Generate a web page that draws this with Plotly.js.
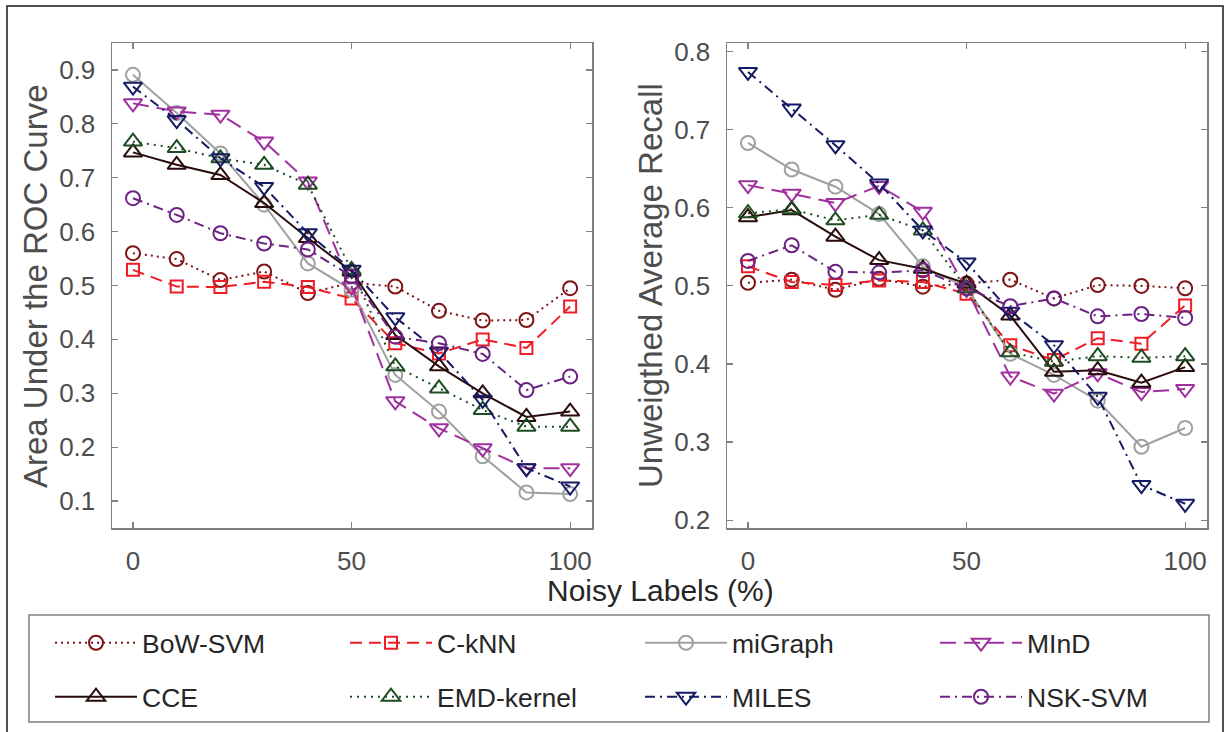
<!DOCTYPE html>
<html>
<head>
<meta charset="utf-8">
<script src="https://cdn.plot.ly/plotly-3.0.1.min.js"></script>
<style>html,body{margin:0;padding:0;background:#fff;}#chart{width:1227px;height:732px;}</style>
</head>
<body>
<div id="chart"></div>
<script>
// ---- data ----
const noise = [0, 10, 20, 30, 40, 50, 60, 70, 80, 90, 100];
const methods = ["BoW-SVM", "C-kNN", "miGraph", "MInD", "CCE", "EMD-kernel", "MILES", "NSK-SVM"];

// Area Under the ROC Curve (left panel)
const bowAuc     = [0.560, 0.549, 0.510, 0.526, 0.486, 0.505, 0.498, 0.453, 0.435, 0.436, 0.495];
const cknnAuc    = [0.529, 0.498, 0.497, 0.507, 0.497, 0.476, 0.393, 0.374, 0.400, 0.384, 0.461];
const migraphAuc = [0.891, 0.820, 0.745, 0.650, 0.541, 0.492, 0.334, 0.266, 0.183, 0.116, 0.113];
const mindAuc    = [0.838, 0.823, 0.817, 0.767, 0.693, 0.498, 0.285, 0.235, 0.198, 0.161, 0.161];
const cceAuc     = [0.747, 0.724, 0.705, 0.653, 0.588, 0.526, 0.408, 0.350, 0.300, 0.256, 0.266];
const emdAuc     = [0.767, 0.755, 0.736, 0.724, 0.687, 0.529, 0.350, 0.309, 0.269, 0.238, 0.238];
const milesAuc   = [0.869, 0.807, 0.736, 0.683, 0.597, 0.529, 0.441, 0.377, 0.288, 0.161, 0.127];
const nskAuc     = [0.662, 0.631, 0.597, 0.578, 0.567, 0.517, 0.405, 0.393, 0.373, 0.306, 0.331];

// Unweighted Average Recall (right panel)
const bowUar     = [0.504, 0.508, 0.495, 0.509, 0.499, 0.503, 0.508, 0.484, 0.501, 0.500, 0.497];
const cknnUar    = [0.525, 0.505, 0.501, 0.507, 0.505, 0.490, 0.424, 0.405, 0.433, 0.426, 0.475];
const migraphUar = [0.683, 0.649, 0.627, 0.592, 0.525, 0.498, 0.413, 0.386, 0.353, 0.294, 0.318];
const mindUar    = [0.629, 0.618, 0.606, 0.628, 0.595, 0.496, 0.384, 0.362, 0.388, 0.364, 0.368];
const cceUar     = [0.588, 0.597, 0.563, 0.533, 0.522, 0.503, 0.462, 0.390, 0.392, 0.376, 0.396];
const emdUar     = [0.593, 0.598, 0.584, 0.591, 0.571, 0.497, 0.415, 0.403, 0.410, 0.408, 0.410];
const milesUar   = [0.774, 0.727, 0.680, 0.631, 0.571, 0.530, 0.467, 0.424, 0.358, 0.245, 0.221];
const nskUar     = [0.532, 0.552, 0.518, 0.517, 0.520, 0.497, 0.474, 0.484, 0.461, 0.464, 0.459];

const xTicks = [0, 50, 100];
const xTitle = "Noisy Labels (%)";
const yTitleLeft = "Area Under the ROC Curve";
const yTitleRight = "Unweigthed Average Recall";

// ---- styles ----
const aucSeries = [bowAuc, cknnAuc, migraphAuc, mindAuc, cceAuc, emdAuc, milesAuc, nskAuc];
const uarSeries = [bowUar, cknnUar, migraphUar, mindUar, cceUar, emdUar, milesUar, nskUar];
const styles = [
  {color: "#7d1416", dash: "2px,4px", symbol: "circle-open", size: 14},
  {color: "#ee1c25", dash: "12px,7px", symbol: "square-open", size: 12},
  {color: "#a0a0a0", dash: "solid", symbol: "circle-open", size: 14},
  {color: "#a0309e", dash: "16px,8px", symbol: "triangle-down-open", size: 16},
  {color: "#2a0b0b", dash: "solid", symbol: "triangle-up-open", size: 16},
  {color: "#1f4d22", dash: "2px,5px", symbol: "triangle-up-open", size: 16},
  {color: "#141a63", dash: "10px,5px,2px,5px", symbol: "triangle-down-open", size: 16},
  {color: "#6b2282", dash: "10px,5px,2px,5px", symbol: "circle-open", size: 14}
];

const traces = [];
methods.forEach((name, i) => {
  const s = styles[i];
  const common = {
    x: noise, type: "scatter", mode: "lines+markers", name: name,
    line: {color: s.color, width: 2, dash: s.dash},
    marker: {symbol: s.symbol, size: s.size, color: s.color, line: {color: s.color, width: 2}},
    legend: i < 4 ? "legend" : "legend2"
  };
  traces.push(Object.assign({}, common, {y: aucSeries[i], xaxis: "x", yaxis: "y", showlegend: true}));
  traces.push(Object.assign({}, common, {y: uarSeries[i], xaxis: "x2", yaxis: "y2", showlegend: false}));
});

// pixel helpers (figure layout)
const W = 1227, H = 732, L = 112, R = 20, T = 43, B = 204;
const pw = W - L - R, ph = H - T - B;
const px = v => (v - L) / pw;
const py = v => (H - B - v) / ph;

const font = "Liberation Sans, Arial, Helvetica, sans-serif";
const axisCommon = {
  showline: true, linecolor: "#808080", linewidth: 1.5, mirror: "allticks",
  ticks: "inside", ticklen: 6, tickwidth: 1.2, tickcolor: "#808080",
  showgrid: false, zeroline: false, automargin: false,
  tickfont: {family: font, size: 26, color: "#4d4d4d"}
};

const legendCommon = {
  orientation: "h", xanchor: "left", yanchor: "middle",
  entrywidth: 198, entrywidthmode: "pixels", itemwidth: 82,
  font: {family: font, size: 26.5, color: "#262626"}, bgcolor: "rgba(0,0,0,0)", borderwidth: 0
};

const layout = {
  width: W, height: H,
  margin: {l: L, r: R, t: T, b: B, pad: 0, autoexpand: false},
  paper_bgcolor: "#ffffff", plot_bgcolor: "#ffffff",
  font: {family: font},
  xaxis: Object.assign({}, axisCommon, {domain: [0, px(592)], range: [-4.8, 105], tickvals: xTicks, ticklabelstandoff: 9, anchor: "y"}),
  yaxis: Object.assign({}, axisCommon, {domain: [0, 1], range: [0.05, 0.95], dtick: 0.1, tick0: 0, tickformat: ".1f", ticklabelstandoff: 10, anchor: "x"}),
  xaxis2: Object.assign({}, axisCommon, {domain: [px(727), 1], range: [-4.8, 105], tickvals: xTicks, ticklabelstandoff: 9, anchor: "y2"}),
  yaxis2: Object.assign({}, axisCommon, {domain: [0, 1], range: [0.19, 0.811], dtick: 0.1, tick0: 0, tickformat: ".1f", ticklabelstandoff: 10, anchor: "x2"}),
  showlegend: true,
  legend: Object.assign({}, legendCommon, {x: px(50), y: py(643)}),
  legend2: Object.assign({}, legendCommon, {x: px(50), y: py(697)}),
  annotations: [
    {text: xTitle, xref: "paper", yref: "paper", x: px(660), y: py(590), xanchor: "center", yanchor: "middle",
     showarrow: false, font: {family: font, size: 30, color: "#262626"}},
    {text: yTitleLeft, xref: "paper", yref: "paper", x: px(35), y: py(286), xanchor: "center", yanchor: "middle",
     textangle: -90, showarrow: false, font: {family: font, size: 33, color: "#4d4d4d"}},
    {text: yTitleRight, xref: "paper", yref: "paper", x: px(650), y: py(286), xanchor: "center", yanchor: "middle",
     textangle: -90, showarrow: false, font: {family: font, size: 33, color: "#4d4d4d"}}
  ],
  shapes: [
    {type: "rect", xref: "paper", yref: "paper", x0: px(29), x1: px(1209), y0: py(722), y1: py(615),
     line: {color: "#808080", width: 1.5}, fillcolor: "rgba(0,0,0,0)", layer: "below"},
    {type: "rect", xref: "paper", yref: "paper", x0: px(7), x1: px(1223), y0: py(745), y1: py(6),
     line: {color: "#1a1a1a", width: 1.5}, fillcolor: "rgba(0,0,0,0)", layer: "below"}
  ]
};

Plotly.newPlot("chart", traces, layout, {displayModeBar: false, staticPlot: true});
</script>
</body>
</html>
